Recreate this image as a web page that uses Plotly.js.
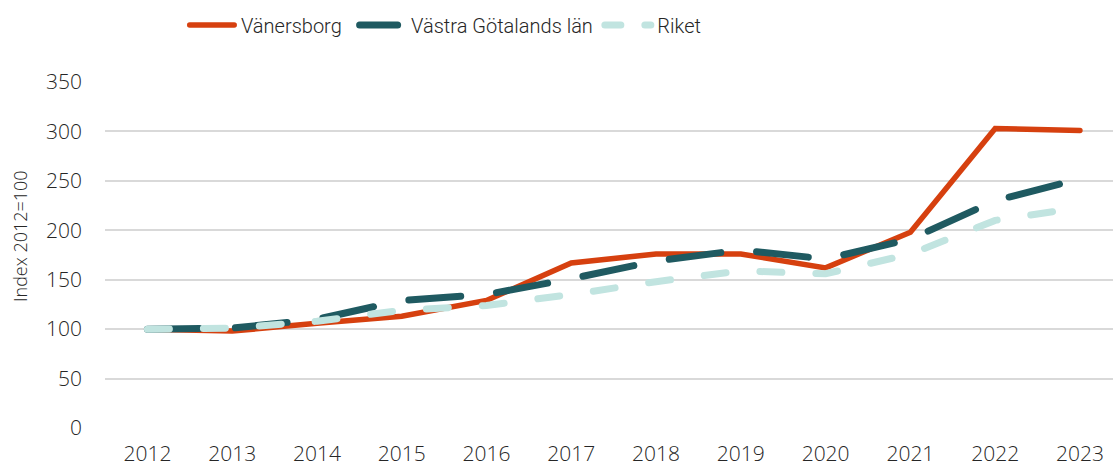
<!DOCTYPE html>
<html>
<head>
<meta charset="utf-8">
<script src="https://cdn.plot.ly/plotly-3.0.1.min.js"></script>
<style>
html,body{margin:0;padding:0;background:#fff;}
#chart{width:1113px;height:468px;}
</style>
</head>
<body>
<div id="chart"></div>
<script>
const years = ['2012','2013','2014','2015','2016','2017','2018','2019','2020','2021','2022','2023'];
const vanersborg = [100, 98, 106, 113, 129, 167, 176, 176, 162, 198, 303, 301];
const vastraGotaland = [100, 101, 110, 129, 135, 151, 169, 180, 171, 191, 230, 252];
const riket = [100, 101, 108, 119, 124, 135, 148, 159, 156, 176, 210, 223];
const seriesNames = ['Vänersborg', 'Västra Götalands län', 'Riket'];
const yTicks = [0, 50, 100, 150, 200, 250, 300, 350];
const yTitle = 'Index 2012=100';

const NB = '\u00a0';
const tickFont = {family: 'Open Sans, Lato, sans-serif', size: 21, color: '#262626', weight: 300};

const traces = [
  {x: years, y: vanersborg, name: seriesNames[0] + NB.repeat(5), type: 'scatter', mode: 'lines',
   line: {color: '#D6400F', width: 5.5}},
  {x: years, y: vastraGotaland, name: seriesNames[1] + NB.repeat(4), type: 'scatter', mode: 'lines',
   line: {color: '#1F5A61', width: 7, dash: '52px,36px'}},
  {x: years, y: riket, name: seriesNames[2], type: 'scatter', mode: 'lines',
   line: {color: '#C1E4E0', width: 7, dash: '22px,34px'}}
];

const layout = {
  width: 1113, height: 468,
  margin: {l: 105, r: 0, t: 82, b: 40},
  paper_bgcolor: '#ffffff', plot_bgcolor: '#ffffff',
  showlegend: true,
  legend: {orientation: 'h', x: 0.0952, xanchor: 'left', y: 1.165, yanchor: 'middle',
           font: {family: 'Roboto, sans-serif', size: 20, color: '#262626', weight: 300},
           traceorder: 'normal', itemwidth: 30},
  xaxis: {type: 'category', range: [-0.5, 11.39], showgrid: false, zeroline: false,
          showline: false, ticks: '', tickfont: tickFont, ticklabelstandoff: 11,
          fixedrange: true},
  yaxis: {range: [0, 350], tickvals: yTicks, ticktext: yTicks.map(String),
          showgrid: true, gridcolor: '#D9D9D9', gridwidth: 2, zeroline: false,
          showline: false, ticks: '', tickfont: tickFont, ticklabelstandoff: 22,
          fixedrange: true},
  annotations: [{
    text: yTitle, xref: 'paper', yref: 'paper', x: -85/1008, y: (428-236)/346,
    xanchor: 'center', yanchor: 'middle', textangle: -90, showarrow: false,
    font: {family: 'Open Sans, Lato, sans-serif', size: 18, color: '#262626', weight: 300}
  }]
};

const legendSamples = ['M-11.25,0h44.5', 'M-11.5,0h38', 'M-12.5,0h46'];
const legendDashes = ['none', 'none', '16px,24px'];

Plotly.newPlot('chart', traces, layout, {displayModeBar: false, staticPlot: true}).then(function(){
  document.querySelectorAll('.scatterlayer .js-line').forEach(function(p){
    p.style.strokeLinecap = 'round';
  });
  document.querySelectorAll('.legend [clip-path]').forEach(function(e){ e.removeAttribute('clip-path'); });
  document.querySelectorAll('.legend .traces').forEach(function(g, i){
    const p = g.querySelector('.legendlines path');
    if (p) {
      p.setAttribute('d', legendSamples[i]);
      p.style.strokeLinecap = 'round';
      p.style.strokeDasharray = legendDashes[i];
    }
  });
});
</script>
</body>
</html>
